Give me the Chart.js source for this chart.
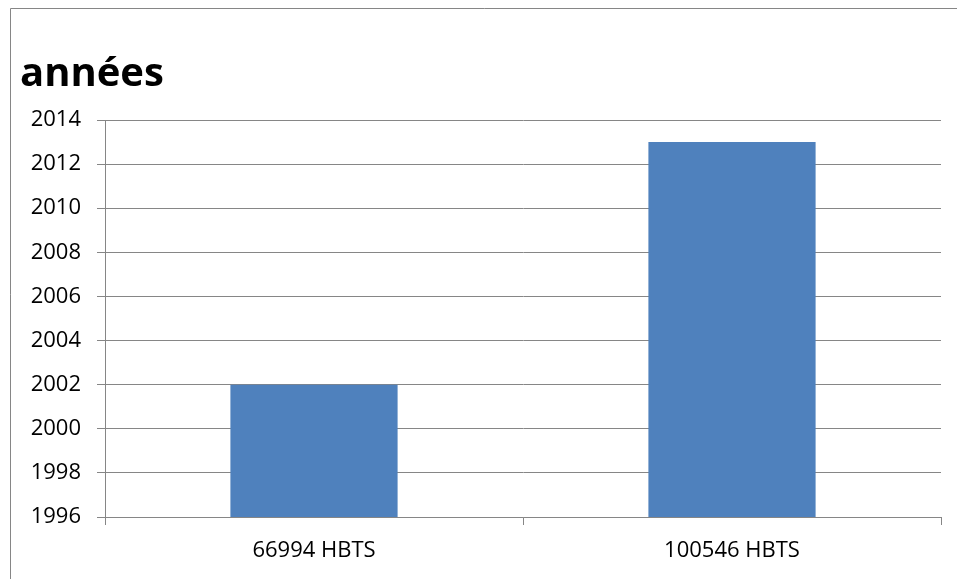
<!DOCTYPE html>
<html><head><meta charset="utf-8">
<script src="https://cdn.jsdelivr.net/npm/chart.js@4"></script>
<style>html,body{margin:0;padding:0;background:#fff;}#wrap{width:957px;height:579px;position:relative;}</style>
</head><body><div id="wrap"><canvas id="c" width="957" height="579"></canvas></div>
<script>
const categories = ["66994 HBTS", "100546 HBTS"];
const values = [2002, 2013];
const titleText = "années";
const yMin = 1996, yMax = 2014, yStep = 2;

const framePlugin = {
  id: 'frame',
  beforeDraw(chart) {
    const ctx = chart.ctx;
    ctx.save();
    ctx.fillStyle = '#fff';
    ctx.fillRect(0, 0, chart.width, chart.height);
    ctx.strokeStyle = '#868686';
    ctx.lineWidth = 1;
    ctx.beginPath();
    ctx.moveTo(10.5, chart.height + 2);
    ctx.lineTo(10.5, 8.5);
    ctx.lineTo(chart.width + 2, 8.5);
    ctx.stroke();
    ctx.restore();
  }
};

new Chart(document.getElementById('c'), {
  type: 'bar',
  data: {
    labels: categories,
    datasets: [{
      data: values,
      backgroundColor: '#4F81BD',
      borderWidth: 0,
      categoryPercentage: 1.0,
      barPercentage: 0.4
    }]
  },
  options: {
    responsive: false,
    animation: false,
    devicePixelRatio: 1,
    layout: { padding: { left: 20, right: 16, top: 0, bottom: 2 } },
    plugins: {
      legend: { display: false },
      tooltip: { enabled: false },
      title: {
        display: true,
        text: titleText,
        align: 'start',
        color: '#000',
        font: { family: 'Open Sans', size: 40, weight: 'bold', lineHeight: 1.2 },
        padding: { top: 51, bottom: 21 }
      }
    },
    scales: {
      y: {
        min: yMin, max: yMax,
        ticks: { stepSize: yStep, color: '#000', font: { family: 'Open Sans', size: 22 }, padding: 16,
                 callback: v => String(v) },
        grid: { color: '#868686', lineWidth: 1, tickLength: 8 },
        border: { color: '#868686', width: 1 },
        afterFit(s) { s.width = 85; }
      },
      x: {
        offset: true,
        ticks: { color: '#000', font: { family: 'Open Sans', size: 22, lineHeight: 1.0 }, padding: 15 },
        grid: { display: true, drawOnChartArea: false, color: '#868686', tickLength: 8, offset: true },
        border: { color: '#868686', width: 1 }
      }
    }
  },
  plugins: [framePlugin]
});
</script></body></html>
